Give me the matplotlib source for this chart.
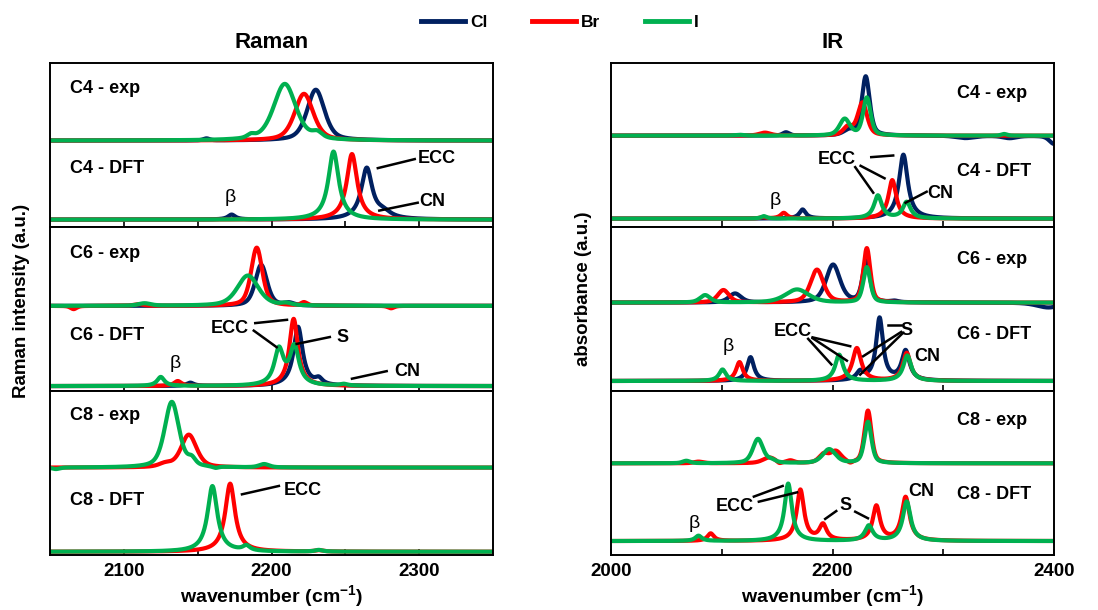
import numpy as np
import matplotlib.pyplot as plt

plt.rcParams['font.family'] = 'Liberation Sans'
plt.rcParams['font.weight'] = 'bold'
plt.rcParams['mathtext.fontset'] = 'custom'
plt.rcParams['mathtext.bf'] = 'Liberation Sans:bold'
plt.rcParams['mathtext.rm'] = 'Liberation Sans'

# Peak tables: (centre in cm-1, height, fwhm)
raman_c4_exp = {
    'Cl': [(2230, 0.31, 14), (2156, 0.012, 5)],
    'Br': [(2222, 0.285, 15)],
    'I': [(2209, 0.345, 18), (2186, 0.02, 6), (2231, 0.035, 8)],
}
raman_c4_dft = {
    'Cl': [(2264.5, 0.31, 9), (2276, 0.035, 12), (2173, 0.03, 6)],
    'Br': [(2254.5, 0.40, 8.5)],
    'I': [(2242, 0.415, 8.5)],
}
raman_c6_exp = {
    'Cl': [(2193, 0.25, 9.5), (2212, 0.015, 8)],
    'Br': [(2190, 0.355, 9), (2222, 0.02, 5), (2066, -0.02, 5),
           (2281, -0.015, 5), (2110, 0.01, 8)],
    'I': [(2184, 0.185, 17), (2114, 0.015, 10), (2210, 0.012, 8)],
}
raman_c6_dft = {
    'Cl': [(2218, 0.36, 7.5), (2232, 0.035, 6), (2145, 0.02, 6)],
    'Br': [(2215, 0.41, 7), (2136.5, 0.03, 6)],
    'I': [(2205, 0.215, 7.5), (2215.5, 0.232, 7.5), (2125, 0.055, 6), (2249, 0.01, 6)],
}
raman_c8_exp = {
    'Br': [(2144, 0.2, 12.5), (2128, 0.02, 10)],
    'I': [(2132.5, 0.4, 11.5), (2146, 0.04, 6), (2195, 0.02, 8),
          (2162, -0.01, 5), (2054, -0.01, 6)],
}
raman_c8_dft = {
    'Br': [(2172, 0.415, 8), (2232, 0.008, 6)],
    'I': [(2160, 0.40, 8), (2183, 0.03, 6), (2232, 0.01, 6)],
}

ir_c4_exp = {
    'Cl': [(2230, 0.36, 8.5), (2158, 0.02, 7), (2215, 0.03, 12),
           (2320, -0.015, 20), (2360, -0.015, 15), (2400, -0.05, 10)],
    'Br': [(2227, 0.2, 10), (2214, 0.05, 10), (2139, 0.018, 12)],
    'I': [(2231, 0.23, 8), (2211, 0.1, 11), (2116, 0.005, 10), (2355, 0.01, 6)],
}
ir_c4_dft = {
    'Cl': [(2264, 0.39, 9.5), (2173, 0.055, 7)],
    'Br': [(2254, 0.235, 8.5), (2156, 0.035, 7), (2137, 0.008, 6)],
    'I': [(2241, 0.14, 8.5), (2267, 0.1, 8.5), (2138, 0.015, 6)],
}
ir_c6_exp = {
    'Cl': [(2230.5, 0.25, 8), (2200.5, 0.23, 15), (2112, 0.055, 13),
           (2256, 0.008, 8), (2395, -0.03, 25)],
    'Br': [(2231, 0.33, 7.5), (2186, 0.2, 14), (2101.5, 0.076, 12)],
    'I': [(2231, 0.215, 7.5), (2168, 0.08, 25), (2085, 0.045, 11)],
}
ir_c6_dft = {
    'Cl': [(2242.5, 0.38, 7.5), (2266, 0.18, 8.5), (2225, 0.05, 8), (2126, 0.145, 7.5)],
    'Br': [(2222, 0.2, 9.5), (2267, 0.17, 8.5), (2116, 0.115, 7.5)],
    'I': [(2206, 0.16, 8.5), (2267.5, 0.155, 8.5), (2100.7, 0.07, 7.5)],
}
ir_c8_exp = {
    'Br': [(2232, 0.32, 7.5), (2203, 0.07, 12), (2192, 0.05, 10), (2216, -0.012, 5),
           (2079, 0.01, 10), (2162, 0.015, 8), (2152, -0.012, 5), (2143, 0.035, 14)],
    'I': [(2232, 0.252, 7.5), (2197, 0.085, 14), (2132.7, 0.148, 11),
          (2145, 0.015, 8), (2068, 0.015, 8)],
}
ir_c8_dft = {
    'Br': [(2171, 0.31, 8), (2191.4, 0.095, 8), (2239.6, 0.21, 8),
           (2266, 0.265, 8.5), (2090, 0.046, 7)],
    'I': [(2160, 0.35, 8), (2232.8, 0.092, 8.5), (2267, 0.24, 8.5), (2079, 0.032, 7)],
}

halides = ['Cl', 'Br', 'I']
colors = {'Cl': '#002060', 'Br': '#ff0000', 'I': '#00b050'}


def spectrum(x, peaks, eta):
    # pseudo-Voigt sum, eta = lorentzian fraction
    y = np.zeros_like(x)
    for c, h, w in peaks:
        lor = 1.0 / (1.0 + ((x - c) / (w / 2.0)) ** 2)
        gau = np.exp(-4 * np.log(2) * (x - c) ** 2 / w ** 2)
        y += h * (eta * lor + (1 - eta) * gau)
    return y


fig = plt.figure(figsize=(10.98, 6.10), dpi=100)

col_x = [50 / 1098, 611 / 1098]
col_w = 443 / 1098
panel_h = 164 / 610
panel_bottoms = [1 - 227 / 610, 1 - 391 / 610, 1 - 555 / 610]

raman = [(raman_c4_exp, raman_c4_dft, 0.527, 0.045, 'C4'),
         (raman_c6_exp, raman_c6_dft, 0.519, 0.030, 'C6'),
         (raman_c8_exp, raman_c8_dft, 0.533, 0.020, 'C8')]
ir = [(ir_c4_exp, ir_c4_dft, 0.557, 0.051, 'C4'),
      (ir_c6_exp, ir_c6_dft, 0.539, 0.061, 'C6'),
      (ir_c8_exp, ir_c8_dft, 0.559, 0.085, 'C8')]

LW = 3.0
axes = {}
for col, (panels, xlim) in enumerate([(raman, (2050, 2350)), (ir, (2000, 2400))]):
    x = np.linspace(xlim[0], xlim[1], 2000)
    for row, (exp_d, dft_d, exp_base, dft_base, name) in enumerate(panels):
        ax = fig.add_axes([col_x[col], panel_bottoms[row], col_w, panel_h])
        axes[(col, row)] = ax
        for h in halides:
            if h in exp_d:
                ax.plot(x, exp_base + spectrum(x, exp_d[h], 0.5), color=colors[h],
                        lw=LW, solid_capstyle='butt')
        for h in halides:
            if h in dft_d:
                ax.plot(x, dft_base + spectrum(x, dft_d[h], 1.0), color=colors[h],
                        lw=LW, solid_capstyle='butt')
        ax.set_xlim(*xlim)
        ax.set_ylim(0, 1)
        ax.set_yticks([])
        for s in ax.spines.values():
            s.set_linewidth(1.4)
        ax.tick_params(axis='x', direction='in', length=4, width=1.2, which='both',
                       labelsize=13.5, pad=6)
        if col == 0:
            ax.set_xticks([2100, 2200, 2300])
            ax.set_xticks([2150, 2250], minor=True)
            ax.text(0.045, exp_base + 0.32, name + ' - exp', transform=ax.transAxes,
                    fontsize=13, fontweight='bold', va='center')
            ax.text(0.045, dft_base + 0.31, name + ' - DFT', transform=ax.transAxes,
                    fontsize=13, fontweight='bold', va='center')
        else:
            ax.set_xticks([2000, 2200, 2400])
            ax.set_xticks([2100, 2300], minor=True)
            ax.text(2344, exp_base + 0.26, name + ' - exp', fontsize=13,
                    fontweight='bold', va='center', ha='center')
            ax.text(2346, dft_base + 0.285, name + ' - DFT', fontsize=13,
                    fontweight='bold', va='center', ha='center')
        if row < 2:
            ax.tick_params(axis='x', labelbottom=False)
        else:
            for lab in ax.get_xticklabels():
                lab.set_fontweight('bold')


def note(ax, text, xy, segs, bold=True, size=13):
    ax.text(xy[0], xy[1], text, fontsize=size, ha='center', va='center',
            fontweight='bold' if bold else 'normal')
    for (x1, y1), (x2, y2) in segs:
        ax.plot([x1, x2], [y1, y2], color='black', lw=1.8)


# Raman annotations
ax = axes[(0, 0)]
note(ax, 'ECC', (2312, 0.42), [((2272, 0.359), (2297, 0.414))])
note(ax, 'CN', (2309, 0.154), [((2273, 0.10), (2299, 0.148))])
note(ax, 'β', (2172, 0.18), [], bold=False, size=14)
ax = axes[(0, 1)]
note(ax, 'ECC', (2172, 0.384), [((2189, 0.414), (2210.5, 0.434)),
                                ((2188, 0.368), (2203.5, 0.267))])
note(ax, 'S', (2248, 0.329), [((2217, 0.287), (2239.5, 0.329))])
note(ax, 'CN', (2292, 0.121), [((2254.5, 0.075), (2278, 0.121))])
note(ax, 'β', (2135, 0.165), [], bold=False, size=14)
ax = axes[(0, 2)]
note(ax, 'ECC', (2221, 0.396), [((2180, 0.37), (2205, 0.421))])

# IR annotations
ax = axes[(1, 0)]
note(ax, 'ECC', (2204, 0.41), [((2235, 0.426), (2254.8, 0.436)),
                               ((2225.4, 0.373), (2247, 0.297)),
                               ((2220.5, 0.365), (2236.8, 0.209))])
note(ax, 'CN', (2297, 0.205), [((2266, 0.148), (2285, 0.215))])
note(ax, 'β', (2148, 0.16), [], bold=False, size=14)
ax = axes[(1, 1)]
note(ax, 'ECC', (2164, 0.364), [((2182, 0.327), (2216, 0.273)),
                                ((2178, 0.318), (2199, 0.162)),
                                ((2182, 0.322), (2213, 0.185))])
note(ax, 'S', (2267, 0.368), [((2250.5, 0.40), (2262, 0.40)),
                              ((2262, 0.36), (2227.7, 0.212)),
                              ((2263, 0.35), (2225, 0.10))])
note(ax, 'CN', (2286, 0.212), [])
note(ax, 'β', (2105.6, 0.27), [], bold=False, size=14)
ax = axes[(1, 2)]
note(ax, 'ECC', (2112, 0.295), [((2129, 0.356), (2155, 0.421)),
                                ((2133.5, 0.325), (2168, 0.382))])
note(ax, 'S', (2211.4, 0.30), [((2193.4, 0.22), (2203.4, 0.268)),
                               ((2220.5, 0.264), (2232, 0.224))])
note(ax, 'CN', (2280, 0.386), [])
note(ax, 'β', (2075, 0.19), [], bold=False, size=14)

# titles, axis labels
fig.text(272 / 1098, 1 - 43 / 610, 'Raman', fontsize=16, fontweight='bold',
         ha='center', va='center')
fig.text(833 / 1098, 1 - 43 / 610, 'IR', fontsize=16, fontweight='bold',
         ha='center', va='center')
fig.text(272 / 1098, 1 - 597 / 610, r'wavenumber (cm$^{\mathbf{-1}}$)', fontsize=14,
         fontweight='bold', ha='center', va='center')
fig.text(833 / 1098, 1 - 597 / 610, r'wavenumber (cm$^{\mathbf{-1}}$)', fontsize=14,
         fontweight='bold', ha='center', va='center')
fig.text(22 / 1098, 1 - 301 / 610, 'Raman intensity (a.u.)', fontsize=13.5,
         fontweight='bold', rotation=90, ha='center', va='center')
fig.text(584 / 1098, 1 - 289 / 610, 'absorbance (a.u.)', fontsize=13.5,
         fontweight='bold', rotation=90, ha='center', va='center')

handles = [plt.Line2D([], [], color=colors[h], lw=3.5) for h in halides]
fig.legend(handles, halides, loc='center', bbox_to_anchor=(0.51, 1 - 22 / 610),
           ncol=3, frameon=False, handlelength=2.5, handletextpad=0.3,
           columnspacing=2.6, prop={'weight': 'bold', 'size': 12.5})

fig.savefig('out.png', dpi=100)
